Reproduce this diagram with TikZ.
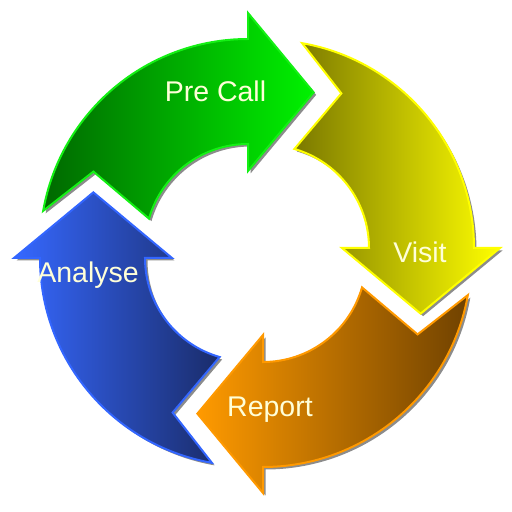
\documentclass[tikz,border=0pt]{standalone}
\usepackage{fontspec}
\setmainfont{Liberation Sans}
\definecolor{grnL}{HTML}{006800}
\definecolor{grnR}{HTML}{00F200}
\definecolor{grnB}{HTML}{14F014}
\definecolor{yelL}{HTML}{7A7800}
\definecolor{yelR}{HTML}{FFFF00}
\definecolor{yelB}{HTML}{FFFF00}
\definecolor{orgL}{HTML}{FF9A00}
\definecolor{orgR}{HTML}{704200}
\definecolor{orgB}{HTML}{FF9900}
\definecolor{bluL}{HTML}{3668FF}
\definecolor{bluR}{HTML}{1A2C6A}
\definecolor{bluB}{HTML}{3366FF}
\definecolor{shad}{HTML}{8C8C8C}
\definecolor{txt}{HTML}{FFFFD8}
\tikzset{
  ringp/.style={insert path={(#1+80:208) arc[start angle=#1+80,end angle=#1,radius=208]
     -- (#1:234) -- (#1-23:168) -- (#1:76) -- (#1:103)
     arc[start angle=#1,end angle=#1+74,radius=103] -- (#1+64:172) -- cycle}},
  lbl/.style={text=txt, font=\fontsize{28.5}{30}\selectfont, anchor=base, inner sep=0pt}
}
\begin{document}
\begin{tikzpicture}[x=1pt,y=1pt]
\useasboundingbox (0,0) rectangle (512,512);
% shadows
\begin{scope}[shift={(250.5,262.5)}] \fill[shad, ringp=90]; \end{scope}
\begin{scope}[shift={(268.5,261.5)}] \fill[shad, ringp=0]; \end{scope}
\begin{scope}[shift={(265.5,250.5)}] \fill[shad, ringp=-90]; \end{scope}
\begin{scope}[shift={(250.5,251.5)}] \fill[shad, ringp=-180]; \end{scope}
% arrows
\begin{scope}[shift={(248,265)}]
  \shade[left color=grnL, right color=grnR, draw=grnB, line width=2pt, ringp=90];
\end{scope}
\begin{scope}[shift={(266,264)}]
  \shade[left color=yelL, right color=yelR, draw=yelB, line width=2pt, ringp=0];
\end{scope}
\begin{scope}[shift={(263,253)}]
  \shade[left color=orgL, right color=orgR, draw=orgB, line width=2pt, ringp=-90];
\end{scope}
\begin{scope}[shift={(248,254)}]
  \shade[left color=bluL, right color=bluR, draw=bluB, line width=2pt, ringp=-180];
\end{scope}
% labels
\node[lbl] (precall) at (215.5,410.3) {Pre Call};
\node[lbl] (visit) at (420,249) {Visit};
\node[lbl] (report) at (270,95) {Report};
\node[lbl] (analyse) at (88,229) {Analyse};
\end{tikzpicture}
\end{document}
